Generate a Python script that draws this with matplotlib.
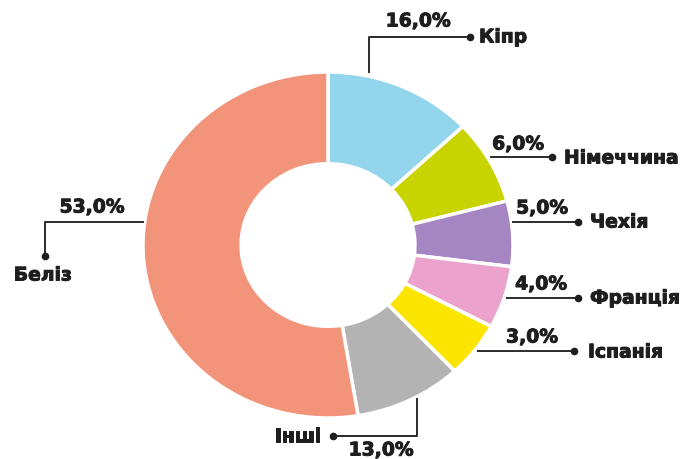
import matplotlib
matplotlib.use('Agg')
from matplotlib import pyplot as plt
from matplotlib import patheffects as pe

countries = ['Кіпр', 'Німеччина', 'Чехія', 'Франція', 'Іспанія', 'Інші', 'Беліз']
pct_labels = ['16,0%', '6,0%', '5,0%', '4,0%', '3,0%', '13,0%', '53,0%']
# arc sizes as drawn in the picture (the infographic is not exactly to scale)
arc_shares = [13.0, 7.9, 6.1, 5.8, 5.2, 9.4, 52.6]
colors = ['#92d5ec', '#c8d300', '#a585c2', '#eba2cc', '#fbe500', '#b3b3b3', '#f29479']

W, H = 689, 459
CX, CY, RX, RY = 328, 245, 185, 173


def px(x, y):
    # pixel position in the picture -> axis units (radius 1 = outer ring)
    return (x - CX) / RX, (CY - y) / RY


fig = plt.figure(figsize=(W / 100, H / 100), dpi=100)
ax = fig.add_axes([0, 0, 1, 1])
ax.pie(arc_shares, colors=colors, startangle=90, counterclock=False,
       radius=1, wedgeprops=dict(width=0.53, edgecolor='white', linewidth=2.5))
ax.set_xlim(px(0, 0)[0], px(W, 0)[0])
ax.set_ylim(px(0, H)[1], px(0, 0)[1])
ax.set_aspect('auto')
ax.axis('off')

ink = '#1e1e1e'
font = dict(family='DejaVu Sans', fontweight='bold', color=ink, fontsize=13.5,
            path_effects=[pe.withStroke(linewidth=0.7, foreground=ink)])
line = dict(color='#2a2a2a', lw=1.4)


def leader(pts, dot):
    xs, ys = zip(*[px(*p) for p in pts])
    ax.plot(xs, ys, **line)
    ax.plot(*px(*dot), 'o', color=ink, ms=4.5)


# Кіпр
leader([(369, 72), (369, 37), (470, 37)], (470, 37))
ax.text(*px(479, 37), countries[0], ha='left', va='center', **font)
ax.text(*px(418, 21), pct_labels[0], ha='center', va='center', **font)
# Німеччина
leader([(491, 157), (552, 157)], (552, 157))
ax.text(*px(564, 158), countries[1], ha='left', va='center', **font)
ax.text(*px(518, 144), pct_labels[1], ha='center', va='center', **font)
# Чехія
leader([(513, 222), (578, 222)], (578, 222))
ax.text(*px(590, 222), countries[2], ha='left', va='center', **font)
ax.text(*px(542, 208), pct_labels[2], ha='center', va='center', **font)
# Франція
leader([(507, 298), (578, 298)], (578, 298))
ax.text(*px(590, 298), countries[3], ha='left', va='center', **font)
ax.text(*px(541, 284), pct_labels[3], ha='center', va='center', **font)
# Іспанія
leader([(478, 351), (574, 351)], (574, 351))
ax.text(*px(588, 352), countries[4], ha='left', va='center', **font)
ax.text(*px(532, 337), pct_labels[4], ha='center', va='center', **font)
# Інші
leader([(417, 399), (417, 436), (333, 436)], (333, 436))
ax.text(*px(321, 436), countries[5], ha='right', va='center', **font)
ax.text(*px(381, 450), pct_labels[5], ha='center', va='center', **font)
# Беліз
leader([(143, 222), (45, 222), (45, 256)], (45, 256))
ax.text(*px(43, 275), countries[6], ha='center', va='center', **font)
ax.text(*px(92, 207), pct_labels[6], ha='center', va='center', **font)

plt.savefig('out.png', dpi=100)
